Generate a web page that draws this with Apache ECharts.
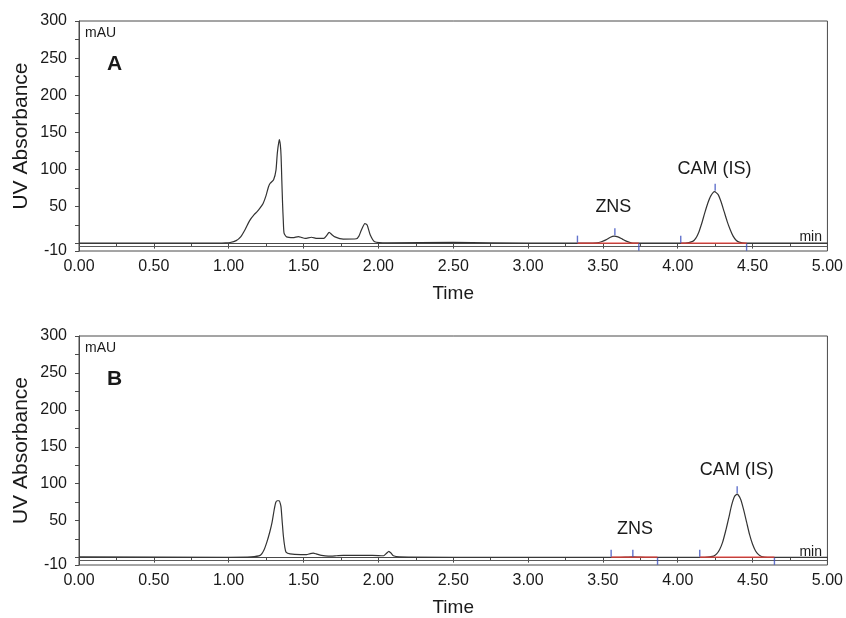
<!DOCTYPE html>
<html>
<head>
<meta charset="utf-8">
<script src="https://cdn.jsdelivr.net/npm/echarts@6/dist/echarts.min.js"></script>
<style>
  html, body { margin: 0; padding: 0; background: #fff; }
  #chart { width: 846px; height: 618px; }
</style>
</head>
<body>
<div id="chart"></div>
<script>
  // chromatogram A: retention time (min) / absorbance (mAU)
  var timeA = [0.00, 0.50, 0.90, 0.98, 1.01, 1.05, 1.08, 1.11, 1.14, 1.17, 1.19, 1.21, 1.23, 1.25, 1.265, 1.276, 1.30, 1.316, 1.325, 1.338, 1.345, 1.35, 1.355, 1.36, 1.365, 1.37, 1.387, 1.43, 1.465, 1.49, 1.51, 1.553, 1.59, 1.635, 1.655, 1.671, 1.69, 1.71, 1.765, 1.853, 1.87, 1.886, 1.91, 1.925, 1.946, 1.975, 2.06, 2.50, 3.00, 3.40, 3.46, 3.49, 3.52, 3.55, 3.575, 3.60, 3.63, 3.66, 3.69, 3.75, 4.05, 4.10, 4.12, 4.14, 4.16, 4.18, 4.20, 4.22, 4.246, 4.27, 4.29, 4.31, 4.33, 4.35, 4.37, 4.39, 4.41, 4.45, 5.00];
  var absA = [0.5, 0.5, 0.5, 1, 1.5, 4, 9, 19, 31, 39, 43, 48, 54, 65, 76, 81, 86, 99, 122, 140, 133, 118, 85, 54, 30, 14, 9, 8, 9.5, 8, 7, 8.5, 7, 7, 11, 15, 12, 9, 6, 6.5, 10, 18, 27, 25, 11.5, 2.5, 1, 1.5, 0.5, 0.5, 1, 2.5, 5, 8.5, 10, 9, 6, 3, 1, 0.5, 0.5, 3, 7, 15, 27, 41, 54, 64, 70, 66, 56, 43, 30, 19, 10, 4.5, 2, 0.5, 0.5];

  // chromatogram B
  var timeB = [0.00, 1.00, 1.15, 1.21, 1.235, 1.255, 1.275, 1.29, 1.305, 1.315, 1.325, 1.338, 1.345, 1.35, 1.357, 1.365, 1.375, 1.383, 1.41, 1.48, 1.52, 1.545, 1.565, 1.585, 1.62, 1.665, 1.72, 1.765, 1.90, 1.96, 2.035, 2.055, 2.07, 2.085, 2.10, 2.14, 2.50, 3.00, 3.60, 3.70, 3.80, 4.18, 4.24, 4.26, 4.28, 4.30, 4.32, 4.34, 4.36, 4.38, 4.397, 4.42, 4.44, 4.46, 4.48, 4.50, 4.52, 4.54, 4.56, 4.60, 5.00];
  var absB = [1, 0.5, 1, 3, 10, 21, 35, 48, 66, 75, 77, 77, 73, 68, 50, 30, 14, 7.5, 5, 4, 4, 5.5, 6, 5, 3, 2, 2.5, 3, 3, 3, 2.5, 6, 8.5, 6, 2.5, 1, 0.5, 0.5, 0.5, 1.2, 0.5, 0.5, 2, 5, 11, 21, 36, 53, 71, 83, 86, 79, 65, 48, 31, 18, 9, 4, 1.5, 0.5, 0.5];

  // integration marks [time, mAU] and baselines [start, end]
  var ticksA = [[3.33, 6], [3.58, 16], [3.74, -5], [4.02, 6], [4.25, 76], [4.46, -5]];
  var ticksB = [[3.555, 6], [3.70, 6], [3.865, -5], [4.147, 6], [4.397, 92], [4.646, -5]];
  var baseA = [[3.33, 3.74], [4.02, 4.46]];
  var baseB = [[3.555, 3.865], [4.147, 4.646]];

  // peak names and where they sit [time, mAU]
  var peakNames = ['ZNS', 'CAM (IS)'];
  var labelPosA = [[3.57, 49], [4.246, 101]];
  var labelPosB = [[3.715, 39], [4.395, 119]];

  var yLabels = [-10, 50, 100, 150, 200, 250, 300];
  var yTicks = [-10, 0, 25, 50, 75, 100, 125, 150, 175, 200, 225, 250, 275, 300];

  var FONT = 'Arial, "Liberation Sans", Helvetica, sans-serif';
  var INK = '#1a1a1a';
  var AXIS = '#4a4a4a';

  function zip(xs, ys) {
    return xs.map(function(x, i) { return [x, ys[i]]; });
  }

  // red integration baselines as one broken line
  function baseLine(bases) {
    var out = [];
    bases.forEach(function(b) {
      out.push([b[0], 0.6], [b[1], 0.6], [b[1], '-']);
    });
    return out;
  }

  function xAxisFor(idx) {
    return {
      type: 'value', gridIndex: idx, min: 0, max: 5, interval: 0.5,
      name: 'Time', nameLocation: 'middle', nameGap: 33,
      nameTextStyle: { fontSize: 19, color: INK, fontFamily: FONT },
      axisLine: { show: true, lineStyle: { color: AXIS, width: 1 } },
      axisTick: { show: true, length: 5, lineStyle: { color: AXIS } },
      minorTick: { show: true, splitNumber: 2, length: 3, lineStyle: { color: AXIS } },
      axisLabel: { fontSize: 16, color: INK, fontFamily: FONT, margin: 8,
        formatter: function(v) { return v.toFixed(2); } },
      splitLine: { show: false }
    };
  }

  function yAxisFor(idx) {
    return {
      type: 'value', gridIndex: idx, min: -10, max: 300, offset: 4,
      name: 'UV Absorbance', nameLocation: 'middle', nameGap: 43, nameMoveOverlap: false,
      nameTextStyle: { fontSize: 21, color: INK, fontFamily: FONT },
      axisLine: { show: true, lineStyle: { color: AXIS, width: 1 } },
      axisTick: { show: true, length: 4, customValues: yTicks, lineStyle: { color: AXIS } },
      axisLabel: { fontSize: 16, color: INK, fontFamily: FONT, margin: 8, customValues: yLabels },
      splitLine: { show: false }
    };
  }

  function panelSeries(idx, times, values, ticks, bases, labelPos) {
    return [
      {
        type: 'line', xAxisIndex: idx, yAxisIndex: idx,
        data: zip(times, values),
        showSymbol: false, smooth: 0.2,
        lineStyle: { color: '#333', width: 1.2 },
        z: 3,
        markLine: {
          silent: true, symbol: 'none', label: { show: false },
          lineStyle: { color: '#5a5a5a', width: 1, type: 'solid' },
          data: [{ yAxis: -3 }]
        },
        markPoint: {
          silent: true, symbol: 'circle', symbolSize: 0,
          label: { show: true, position: 'inside', fontSize: 18, color: INK, fontFamily: FONT,
            formatter: function(p) { return p.name; } },
          data: peakNames.map(function(n, i) { return { name: n, coord: labelPos[i] }; })
        }
      },
      {
        type: 'line', xAxisIndex: idx, yAxisIndex: idx,
        data: baseLine(bases), showSymbol: false, connectNulls: false,
        lineStyle: { color: '#e8403a', width: 1.4 }, silent: true, z: 6
      },
      {
        type: 'scatter', xAxisIndex: idx, yAxisIndex: idx,
        data: ticks, symbol: 'rect', symbolSize: [1.4, 7],
        itemStyle: { color: '#3c50c0' }, silent: true, z: 7
      }
    ];
  }

  function panelText(top, letter) {
    return [
      { type: 'text', left: 85, top: top + 5, style: { text: 'mAU', fontSize: 14, fill: INK, fontFamily: FONT } },
      { type: 'text', left: 107, top: top + 33, style: { text: letter, fontSize: 21, fontWeight: 'bold', fill: INK, fontFamily: FONT } },
      { type: 'text', right: 24, top: top + 209, style: { text: 'min', fontSize: 14, fill: INK, fontFamily: FONT } }
    ];
  }

  var chart = echarts.init(document.getElementById('chart'), null, { renderer: 'canvas' });

  var grids = [
    { left: 79, right: 16, top: 21, height: 230, show: true, borderColor: AXIS, borderWidth: 1, backgroundColor: 'transparent' },
    { left: 79, right: 16, top: 336, height: 230, show: true, borderColor: AXIS, borderWidth: 1, backgroundColor: 'transparent' }
  ];

  chart.setOption({
    backgroundColor: '#fff',
    animation: false,
    grid: grids,
    xAxis: [xAxisFor(0), xAxisFor(1)],
    yAxis: [yAxisFor(0), yAxisFor(1)],
    graphic: panelText(21, 'A').concat(panelText(336, 'B')),
    series: panelSeries(0, timeA, absA, ticksA, baseA, labelPosA)
      .concat(panelSeries(1, timeB, absB, ticksB, baseB, labelPosB))
  });
</script>
</body>
</html>
